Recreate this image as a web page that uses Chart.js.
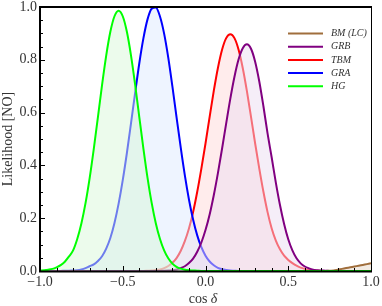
<!DOCTYPE html>
<html>
<head>
<meta charset="utf-8">
<script src="https://cdn.jsdelivr.net/npm/chart.js@4.4.0/dist/chart.umd.min.js"></script>
<style>
  html, body { margin: 0; padding: 0; background: #fff; }
  canvas { display: block; }
</style>
</head>
<body>
<canvas id="likelihoodChart" width="382" height="306"></canvas>
<script>
// cos(delta) sample points
const cosDelta = [
  -1, -0.975, -0.95, -0.925, -0.9, -0.875, -0.85, -0.825, -0.8, -0.775,
  -0.75, -0.725, -0.7, -0.675, -0.65, -0.625, -0.6, -0.575, -0.55, -0.525,
  -0.5, -0.475, -0.45, -0.425, -0.4, -0.375, -0.35, -0.325, -0.3, -0.275,
  -0.25, -0.225, -0.2, -0.175, -0.15, -0.125, -0.1, -0.075, -0.05, -0.025,
  0,
  0.025, 0.05, 0.075, 0.1, 0.125, 0.15, 0.175, 0.2, 0.225, 0.25,
  0.275, 0.3, 0.325, 0.35, 0.375, 0.4, 0.425, 0.45, 0.475, 0.5,
  0.525, 0.55, 0.575, 0.6, 0.625, 0.65, 0.675, 0.7, 0.725, 0.75,
  0.775, 0.8, 0.825, 0.85, 0.875, 0.9, 0.925, 0.95, 0.975, 1,
];

const bmLC = [
  0, 0, 0, 0, 0, 0, 0, 0, 0, 0,
  0, 0, 0, 0, 0, 0, 0, 0, 0, 0,
  0, 0, 0, 0, 0, 0, 0, 0, 0, 0,
  0, 0, 0, 0, 0, 0, 0, 0, 0, 0,
  0,
  0, 0, 0, 0, 0, 0, 0, 0, 0, 0,
  0, 0, 0, 0, 0, 0, 0, 0, 0, 0,
  0, 0, 0, 0, 0, 0, 0, 0, 0, 0.001,
  0.002, 0.005, 0.008, 0.011, 0.014, 0.017, 0.020, 0.023, 0.026, 0.029,
];

const grb = [
  0, 0, 0, 0, 0, 0, 0, 0, 0, 0,
  0, 0, 0, 0, 0, 0, 0, 0, 0, 0,
  0, 0, 0, 0, 0, 0, 0, 0, 0, 0,
  0.001, 0.002, 0.003, 0.006, 0.011, 0.018, 0.030, 0.047, 0.073, 0.108,
  0.155,
  0.214, 0.287, 0.371, 0.463, 0.559, 0.653, 0.736, 0.802, 0.844, 0.859,
  0.842, 0.793, 0.718, 0.624, 0.521, 0.430, 0.335, 0.250, 0.178, 0.120,
  0.078, 0.048, 0.029, 0.017, 0.010, 0.005, 0.003, 0.002, 0.001, 0,
  0, 0, 0, 0, 0, 0, 0, 0, 0, 0,
];

const tbm = [
  0, 0, 0, 0, 0, 0, 0, 0, 0, 0,
  0, 0, 0, 0, 0, 0, 0, 0, 0, 0,
  0, 0, 0, 0, 0, 0, 0.001, 0.002, 0.004, 0.006,
  0.011, 0.019, 0.031, 0.049, 0.076, 0.113, 0.161, 0.223, 0.300, 0.388,
  0.483,
  0.584, 0.682, 0.769, 0.838, 0.882, 0.897, 0.882, 0.838, 0.769, 0.682,
  0.584, 0.483, 0.388, 0.300, 0.223, 0.161, 0.115, 0.082, 0.058, 0.042,
  0.030, 0.020, 0.013, 0.008, 0.004, 0.002, 0.001, 0, 0, 0,
  0, 0, 0, 0, 0, 0, 0, 0, 0, 0,
];

const gra = [
  0, 0, 0, 0, 0, 0, 0.001, 0.001, 0.002, 0.003,
  0.006, 0.011, 0.018, 0.025, 0.038, 0.056, 0.085, 0.125, 0.182, 0.255,
  0.344, 0.447, 0.560, 0.676, 0.787, 0.882, 0.954, 0.994, 0.998, 0.964,
  0.899, 0.808, 0.699, 0.583, 0.469, 0.363, 0.271, 0.195, 0.135, 0.090,
  0.058,
  0.036, 0.022, 0.012, 0.007, 0.004, 0.002, 0.001, 0, 0, 0,
  0, 0, 0, 0, 0, 0, 0, 0, 0, 0,
  0, 0, 0, 0, 0, 0, 0, 0, 0, 0,
  0, 0, 0, 0, 0, 0, 0, 0, 0, 0,
];

const hg = [
  0.002, 0.003, 0.005, 0.008, 0.014, 0.022, 0.035, 0.055, 0.078, 0.121,
  0.180, 0.257, 0.352, 0.463, 0.583, 0.705, 0.816, 0.906, 0.965, 0.986,
  0.965, 0.906, 0.816, 0.705, 0.583, 0.463, 0.352, 0.257, 0.180, 0.121,
  0.078, 0.048, 0.028, 0.016, 0.009, 0.005, 0.003, 0.002, 0.001, 0,
  0,
  0, 0, 0, 0, 0, 0, 0, 0, 0, 0,
  0, 0, 0, 0, 0, 0, 0, 0, 0, 0,
  0, 0, 0, 0, 0, 0, 0, 0, 0, 0,
  0, 0, 0, 0, 0, 0, 0, 0, 0, 0,
];

const xTicks = [-1, -0.5, 0, 0.5, 1];
const yTicks = [0, 0.2, 0.4, 0.6, 0.8, 1];

const SERIF = '"Liberation Serif", "DejaVu Serif", serif';

function toPoints(values) {
  return cosDelta.map((x, i) => ({ x: x, y: values[i] }));
}

function fmt(v) {
  return (v < 0 ? "\u2212" : "") + Math.abs(v).toFixed(1);
}

// frame, inward ticks, tick labels, titles and the legend
const framePlugin = {
  id: "frame",
  afterDatasetsDraw(chart) {
    const { ctx, chartArea: a, scales } = chart;
    const x = scales.x, y = scales.y;
    ctx.save();
    ctx.strokeStyle = "#000";

    // minor/major ticks
    ctx.lineWidth = 1;
    ctx.beginPath();
    for (let k = 0; k <= 20; k++) {
      const py = Math.round(y.getPixelForValue(k * 0.05)) + 0.5;
      const len = k % 4 === 0 ? 5 : 3;
      ctx.moveTo(a.left, py);
      ctx.lineTo(a.left + len, py);
    }
    for (let k = 0; k <= 20; k++) {
      const px = Math.round(x.getPixelForValue(-1 + k * 0.1)) + 0.5;
      const len = k % 5 === 0 ? 5 : 3;
      ctx.moveTo(px, a.bottom);
      ctx.lineTo(px, a.bottom - len);
    }
    ctx.stroke();

    // frame
    ctx.lineWidth = 2;
    ctx.beginPath();
    ctx.moveTo(a.left, a.top - 1);
    ctx.lineTo(a.left, a.bottom + 1.5);
    ctx.moveTo(a.left - 1, a.bottom + 0.5);
    ctx.lineTo(a.right + 1, a.bottom + 0.5);
    ctx.moveTo(a.left - 1, a.top);
    ctx.lineTo(a.right + 1, a.top);
    ctx.stroke();
    ctx.lineWidth = 1;
    ctx.beginPath();
    ctx.moveTo(a.right + 0.5, a.top);
    ctx.lineTo(a.right + 0.5, a.bottom + 1);
    ctx.stroke();

    // tick labels
    ctx.fillStyle = "#333";
    ctx.font = "14px " + SERIF;
    ctx.textAlign = "right";
    ctx.textBaseline = "middle";
    yTicks.forEach((v) => {
      ctx.fillText(v.toFixed(1), a.left - 3, y.getPixelForValue(v));
    });
    ctx.textAlign = "center";
    xTicks.forEach((v) => {
      ctx.fillText(fmt(v), x.getPixelForValue(v), a.bottom + 11);
    });

    // x title: cos δ
    ctx.textAlign = "left";
    ctx.textBaseline = "alphabetic";
    const up = "14px " + SERIF, it = "italic 14px " + SERIF;
    ctx.font = up;
    const w1 = ctx.measureText("cos ").width;
    ctx.font = it;
    const w2 = ctx.measureText("\u03b4").width;
    const sx = 203 - (w1 + w2) / 2;
    ctx.font = up;
    ctx.fillText("cos ", sx, 303);
    ctx.font = it;
    ctx.fillText("\u03b4", sx + w1, 303);

    // y title
    ctx.save();
    ctx.translate(8, (a.top + a.bottom) / 2);
    ctx.rotate(-Math.PI / 2);
    ctx.font = up;
    ctx.textAlign = "center";
    ctx.textBaseline = "middle";
    ctx.fillText("Likelihood [NO]", 0, 0);
    ctx.restore();

    // legend
    ctx.font = "italic 10px " + SERIF;
    ctx.textAlign = "left";
    ctx.textBaseline = "middle";
    chart.data.datasets.forEach((ds, i) => {
      const ly = 33.5 + 13.2 * i;
      ctx.strokeStyle = ds.borderColor;
      ctx.lineWidth = 2;
      ctx.beginPath();
      ctx.moveTo(288, ly);
      ctx.lineTo(323, ly);
      ctx.stroke();
      ctx.fillStyle = "#333";
      ctx.fillText(ds.label, 331, ly);
    });
    ctx.restore();
  },
};

const common = {
  fill: "origin",
  borderWidth: 2,
  pointRadius: 0,
  cubicInterpolationMode: "monotone",
};

const ctx = document.getElementById("likelihoodChart").getContext("2d");
new Chart(ctx, {
  type: "line",
  data: {
    datasets: [
      // higher order is painted first, so later fills wash over earlier lines
      { ...common, label: "BM (LC)", data: toPoints(bmLC), borderColor: "rgb(160, 110, 60)", backgroundColor: "rgba(230, 215, 200, 0.5)", order: 6 },
      { ...common, label: "GRB", data: toPoints(grb), borderColor: "#800080", backgroundColor: "rgba(235, 221, 241, 0.5)", order: 3 },
      { ...common, label: "TBM", data: toPoints(tbm), borderColor: "#ff0000", backgroundColor: "rgba(255, 217, 217, 0.5)", order: 5 },
      { ...common, label: "GRA", data: toPoints(gra), borderColor: "#0000ff", backgroundColor: "rgba(221, 233, 255, 0.5)", order: 4 },
      { ...common, label: "HG", data: toPoints(hg), borderColor: "#00ff00", backgroundColor: "rgba(217, 247, 217, 0.5)", order: 2 },
    ],
  },
  options: {
    responsive: false,
    animation: false,
    devicePixelRatio: 1,
    layout: { padding: { left: 40, right: 11, top: 7, bottom: 35 } },
    scales: {
      x: { type: "linear", min: -1, max: 1, display: false },
      y: { type: "linear", min: 0, max: 1, display: false },
    },
    plugins: {
      legend: { display: false },
      tooltip: { enabled: false },
    },
  },
  plugins: [framePlugin],
});
</script>
</body>
</html>
